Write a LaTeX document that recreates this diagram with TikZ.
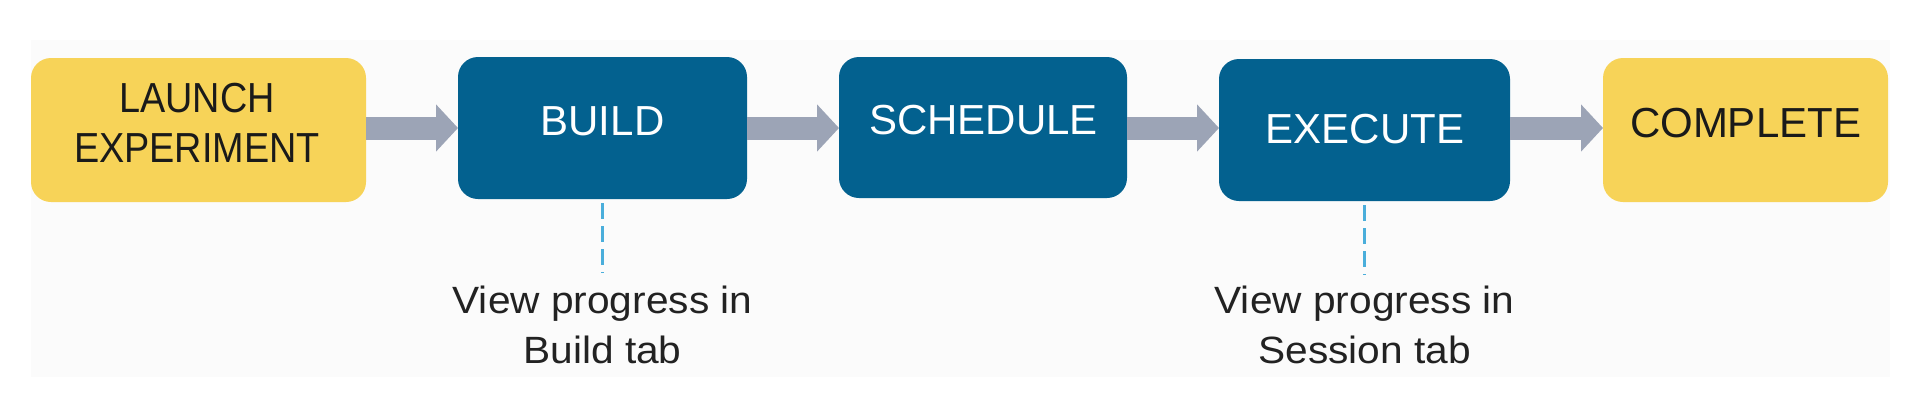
\documentclass[tikz,border=0pt]{standalone}
\usepackage{fontspec}
\setmainfont{Liberation Sans}
\usetikzlibrary{arrows.meta}
\definecolor{boxyellow}{HTML}{F7D358}
\definecolor{boxblue}{HTML}{03618F}
\definecolor{arrowgrey}{HTML}{9CA4B6}
\definecolor{dashblue}{HTML}{4AAEDB}
\definecolor{bgfaint}{HTML}{FBFBFB}
\definecolor{darktext}{HTML}{1A1A1A}
\definecolor{notetext}{HTML}{222222}
\begin{document}
\begin{tikzpicture}[x=0.5pt,y=-0.5pt,
  yellowbox/.style={fill=boxyellow, rounded corners=10pt, inner sep=0pt, outer sep=0pt},
  bluebox/.style={fill=boxblue, rounded corners=10pt, inner sep=0pt, outer sep=0pt},
  captext/.style={font=\fontsize{21}{25}\selectfont, inner sep=0pt, anchor=base},
  narrowcap/.style={font=\fontsize{21}{25}\selectfont\addfontfeatures{FakeStretch=0.9}, inner sep=0pt, anchor=base},
  flow/.style={draw=arrowgrey, line width=11.5pt, -{Triangle[length=11pt 0 0, width=23pt 0 0]}},
  hint/.style={draw=dashblue, line width=1.5pt, dash pattern=on 8pt off 3.5pt},
  note/.style={font=\fontsize{19}{25}\selectfont\addfontfeatures{FakeStretch=1.07}, inner sep=0pt, anchor=base, text=notetext}
]
\useasboundingbox (0,0) rectangle (1930,402);
\fill[white] (0,0) rectangle (1930,402);
\fill[bgfaint] (31,40) rectangle (1890,377);

% boxes
\node[yellowbox, minimum width=167.5pt, minimum height=72pt] (launch) at (198.5,130) {};
\node[bluebox, minimum width=144.5pt, minimum height=71pt] (build) at (602.5,128) {};
\node[bluebox, minimum width=144pt, minimum height=70.5pt] (schedule) at (983,127.5) {};
\node[bluebox, minimum width=145.5pt, minimum height=71pt] (execute) at (1364.5,130) {};
\node[yellowbox, minimum width=142.5pt, minimum height=72pt] (complete) at (1745.5,130) {};

% box labels
\node[narrowcap, text=darktext] (launchA) at (197,112) {LAUNCH};
\node[narrowcap, text=darktext] (launchB) at (197,162) {EXPERIMENT};
\node[captext, text=white] (buildT) at (602.5,135) {BUILD};
\node[captext, text=white] (scheduleT) at (983.5,134) {SCHEDULE};
\node[captext, text=white] (executeT) at (1365,143) {EXECUTE};
\node[captext, text=darktext] (completeT) at (1745.5,137) {COMPLETE};

% arrows
\coordinate (mid) at (0,128);
\draw[flow] (launch.east |- mid) -- (build.west |- mid);
\draw[flow] (build.east |- mid) -- (schedule.west |- mid);
\draw[flow] (schedule.east |- mid) -- (execute.west |- mid);
\draw[flow] (execute.east |- mid) -- (complete.west |- mid);

% notes
\node[note] (buildN1) at (602.5,313) {View progress in};
\node[note] (buildN2) at (602.5,363) {Build tab};
\node[note] (execN1) at (1364.5,313) {View progress in};
\node[note] (execN2) at (1364.5,363) {Session tab};

\draw[hint] ([yshift=-2pt]build.south) -- ([yshift=6pt]buildN1.north);
\draw[hint] ([yshift=-2pt]execute.south) -- ([yshift=5pt]execN1.north);
\end{tikzpicture}
\end{document}
